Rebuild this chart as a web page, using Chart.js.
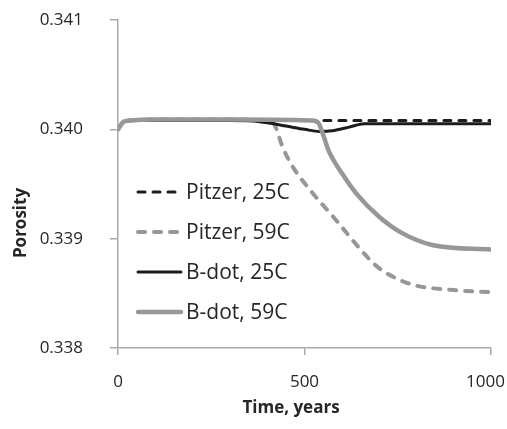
<!DOCTYPE html>
<html>
<head>
<meta charset="utf-8">
<script src="https://cdn.jsdelivr.net/npm/chart.js@4.4.1/dist/chart.umd.min.js"></script>
<style>
  html, body { margin: 0; padding: 0; background: #ffffff; }
  #wrap { position: relative; width: 507px; height: 429px; }
</style>
</head>
<body>
<div id="wrap"><canvas id="c" width="507" height="429"></canvas></div>
<script>
// ---- Data ----
const seriesNames = ["Pitzer, 25C", "Pitzer, 59C", "B-dot, 25C", "B-dot, 59C"];

const pitzer25Time = [0, 15, 30, 100, 300, 500, 700, 1000];
const pitzer25Poro = [0.34000, 0.34007, 0.34008, 0.34009, 0.34009, 0.34008, 0.34008, 0.34008];

const pitzer59Time = [0, 15, 30, 100, 300, 400, 420, 441, 470, 521, 577, 669, 700, 750, 800, 900, 1000];
const pitzer59Poro = [0.34000, 0.34007, 0.34008, 0.34009, 0.34009, 0.34008, 0.34004, 0.33984, 0.33965, 0.33942, 0.33920, 0.33883, 0.33873, 0.33863, 0.33857, 0.33853, 0.33851];

const bdot25Time = [0, 15, 30, 100, 300, 380, 450, 500, 540, 580, 620, 660, 800, 1000];
const bdot25Poro = [0.34000, 0.34007, 0.34008, 0.34008, 0.34008, 0.34007, 0.34003, 0.34000, 0.33998, 0.33999, 0.34002, 0.34005, 0.34005, 0.34005];

const bdot59Time = [0, 15, 30, 100, 300, 520, 537, 550, 564, 600, 642, 700, 757, 845, 1000];
const bdot59Poro = [0.34000, 0.34007, 0.34008, 0.34009, 0.34009, 0.34008, 0.34006, 0.33995, 0.33981, 0.33960, 0.33940, 0.33920, 0.33906, 0.33894, 0.33890];

const xTickValues = [0, 500, 1000];
const xTickLabels = ["0", "500", "1000"];
const yTickValues = [0.338, 0.339, 0.340, 0.341];
const xTitle = "Time, years";
const yTitle = "Porosity";

function pts(t, v) { return t.map((x, i) => ({ x: x, y: v[i] })); }

const BLACK = '#1c1c1c';
const GRAY = '#979797';
const AXIS = '#a9a9a9';
const TEXT = '#262626';
const FONT = "'Open Sans', 'Noto Sans', sans-serif";

const datasets = [
  { label: seriesNames[0], data: pts(pitzer25Time, pitzer25Poro), borderColor: BLACK, borderWidth: 3,
    borderDash: [7, 8], borderCapStyle: 'round', order: 4 },
  { label: seriesNames[1], data: pts(pitzer59Time, pitzer59Poro), borderColor: GRAY, borderWidth: 4,
    borderDash: [7, 9], borderCapStyle: 'round', order: 3 },
  { label: seriesNames[2], data: pts(bdot25Time, bdot25Poro), borderColor: BLACK, borderWidth: 3,
    borderDash: [], borderCapStyle: 'round', order: 2 },
  { label: seriesNames[3], data: pts(bdot59Time, bdot59Poro), borderColor: GRAY, borderWidth: 4.5,
    borderDash: [], borderCapStyle: 'round', order: 1 }
].map(d => Object.assign(d, { fill: false, pointRadius: 0, cubicInterpolationMode: 'monotone', borderJoinStyle: 'round' }));

const overlay = {
  id: 'overlay',
  afterDraw(chart) {
    const ctx = chart.ctx;
    ctx.save();
    // legend inside plot area
    chart.data.datasets.forEach((ds, i) => {
      const y = 192 + 40 * i;
      ctx.beginPath();
      ctx.strokeStyle = ds.borderColor;
      ctx.lineWidth = ds.borderWidth;
      ctx.lineCap = ds.borderCapStyle;
      ctx.setLineDash(ds.borderDash);
      ctx.moveTo(138, y);
      ctx.lineTo(181, y);
      ctx.stroke();
      ctx.setLineDash([]);
      ctx.fillStyle = TEXT;
      ctx.font = "21px " + FONT;
      ctx.textAlign = 'left';
      ctx.textBaseline = 'middle';
      ctx.fillText(ds.label, 186, y + 1);
    });
    // x tick labels, positioned by the x scale (last one kept inside the canvas)
    const xs = chart.scales.x;
    ctx.font = "17px " + FONT;
    ctx.fillStyle = TEXT;
    ctx.textBaseline = 'middle';
    ctx.textAlign = 'center';
    xTickValues.forEach((v, i) => {
      const txt = xTickLabels[i];
      const w = ctx.measureText(txt).width;
      let cx = xs.getPixelForValue(v);
      cx = Math.min(cx, chart.width - 2 - w / 2);
      ctx.fillText(txt, cx, 382);
    });
    // axis titles
    ctx.font = "bold 17px " + FONT;
    ctx.fillText(xTitle, 291, 408);
    ctx.translate(21, 223);
    ctx.rotate(-Math.PI / 2);
    ctx.fillText(yTitle, 0, 0);
    ctx.restore();
  }
};

new Chart(document.getElementById('c'), {
  type: 'line',
  data: { datasets: datasets },
  options: {
    responsive: false,
    animation: false,
    layout: { padding: { left: 0, right: 16, top: 20, bottom: 0 } },
    plugins: { legend: { display: false }, tooltip: { enabled: false } },
    scales: {
      x: {
        type: 'linear', min: 0, max: 1000,
        afterBuildTicks: s => { s.ticks = xTickValues.map(v => ({ value: v })); },
        afterFit: s => { s.height = 81; s.paddingLeft = 0; s.paddingRight = 0; },
        ticks: { color: 'rgba(0,0,0,0)', font: { size: 17, family: FONT }, padding: 18, maxRotation: 0, autoSkip: false,
                 callback: v => String(v) },
        grid: { drawOnChartArea: false, drawTicks: true, tickLength: 7, color: AXIS, lineWidth: 1.5 },
        border: { color: AXIS, width: 1.5 }
      },
      y: {
        type: 'linear', min: 0.338, max: 0.341,
        afterBuildTicks: s => { s.ticks = yTickValues.map(v => ({ value: v })); },
        afterFit: s => { s.width = 118; s.paddingTop = 0; s.paddingBottom = 0; },
        ticks: { color: TEXT, font: { size: 17, family: FONT }, padding: 27, callback: v => Number(v).toFixed(3) },
        grid: { drawOnChartArea: false, drawTicks: true, tickLength: 8, color: AXIS, lineWidth: 1.5 },
        border: { color: AXIS, width: 1.5 }
      }
    }
  },
  plugins: [overlay]
});
</script>
</body>
</html>
